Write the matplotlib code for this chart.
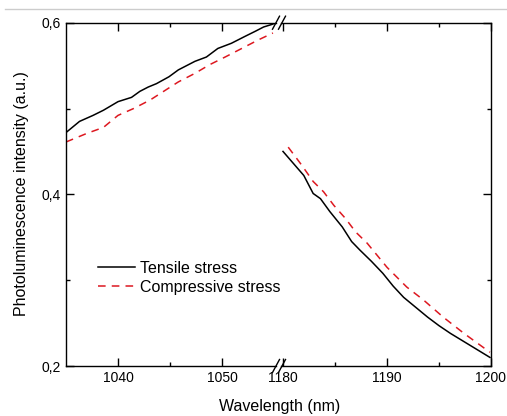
import numpy as np
import matplotlib.pyplot as plt
from matplotlib.lines import Line2D
from matplotlib.ticker import FixedLocator, FuncFormatter

plt.rcParams['font.family'] = ['Liberation Sans', 'DejaVu Sans']

# Dati: parte sinistra (1035-1055 nm)
wl_left_tens = [1035.0, 1036.3, 1037.6, 1038.6, 1040.0, 1041.3, 1042.1, 1042.9, 1043.7, 1044.9,
                1045.8, 1047.4, 1048.5, 1049.6, 1050.9, 1052.2, 1053.2, 1054.0, 1054.8, 1055.2]
int_left_tens = [0.472, 0.485, 0.492, 0.498, 0.508, 0.513, 0.520, 0.525, 0.529, 0.537,
                 0.545, 0.555, 0.560, 0.570, 0.576, 0.584, 0.590, 0.595, 0.598, 0.600]
wl_left_comp = [1035.0, 1037.0, 1038.6, 1040.0, 1041.5, 1043.1, 1044.9, 1045.8, 1047.4,
                1048.8, 1050.3, 1051.9, 1053.5, 1054.9]
int_left_comp = [0.461, 0.471, 0.478, 0.492, 0.500, 0.510, 0.524, 0.531, 0.541,
                 0.551, 0.560, 0.570, 0.580, 0.588]

# parte destra (1180-1200 nm)
wl_right_tens = [1180.0, 1181.0, 1182.0, 1182.9, 1183.6, 1184.5, 1185.7, 1186.6, 1187.4, 1188.5,
                 1189.6, 1190.6, 1191.6, 1192.8, 1193.9, 1195.0, 1196.1, 1198.0, 1199.9]
int_right_tens = [0.450, 0.436, 0.422, 0.401, 0.395, 0.380, 0.362, 0.345, 0.335, 0.322,
                  0.308, 0.293, 0.280, 0.268, 0.257, 0.247, 0.238, 0.224, 0.210]
wl_right_comp = [1180.5, 1181.8, 1182.9, 1183.9, 1184.9, 1186.0, 1187.0, 1188.1, 1190.0,
                 1191.9, 1193.5, 1195.4, 1197.4, 1199.9]
int_right_comp = [0.455, 0.434, 0.415, 0.403, 0.387, 0.372, 0.356, 0.343, 0.315,
                  0.292, 0.277, 0.257, 0.238, 0.216]

W, H = 507, 416
fig = plt.figure(figsize=(W / 100, H / 100), dpi=100)

ax_l = fig.add_axes([66 / W, 1 - 366 / H, 210 / W, 343.3 / H])
ax_r = fig.add_axes([281 / W, 1 - 366 / H, 210 / W, 343.3 / H], sharey=ax_l)

for ax, wt, it, wc, ic in [(ax_l, wl_left_tens, int_left_tens, wl_left_comp, int_left_comp),
                           (ax_r, wl_right_tens, int_right_tens, wl_right_comp, int_right_comp)]:
    ax.plot(wt, it, color='black', lw=1.1, label='Tensile stress')
    ax.plot(wc, ic, color='#dd1820', lw=1.1, ls=(0, (5, 4)), label='Compressive stress')
    for s in ax.spines.values():
        s.set_linewidth(1.0)
    ax.tick_params(which='both', direction='in', top=True, labelsize=10, width=1.0)
    ax.tick_params(which='major', length=6)
    ax.tick_params(which='minor', length=3)

ax_l.set_xlim(1035, 1035 + 210 / 10.4)
ax_r.set_xlim(1200 - 210 / 10.4, 1200)
ax_l.set_ylim(0.2, 0.6)

ax_l.xaxis.set_major_locator(FixedLocator([1040, 1050]))
ax_l.xaxis.set_minor_locator(FixedLocator([1045]))
ax_r.xaxis.set_major_locator(FixedLocator([1180, 1190, 1200]))
ax_r.xaxis.set_minor_locator(FixedLocator([1185, 1195]))
ax_l.yaxis.set_major_locator(FixedLocator([0.2, 0.4, 0.6]))
ax_l.yaxis.set_minor_locator(FixedLocator([0.3, 0.5]))
ax_l.yaxis.set_major_formatter(FuncFormatter(lambda v, p: ('%.1f' % v).replace('.', ',')))

ax_l.spines['right'].set_visible(False)
ax_r.spines['left'].set_visible(False)
ax_l.tick_params(which='both', right=False)
ax_r.tick_params(which='both', left=False, labelleft=False, right=True)

# segni di interruzione //
for yb in [22.7, 366]:
    for x0 in [272.5, 278.5]:
        fig.add_artist(Line2D([x0 / W, (x0 + 7) / W], [1 - (yb + 6.5) / H, 1 - (yb - 6.5) / H],
                              color='black', lw=1.0))

# linea grigia in alto
fig.add_artist(Line2D([5 / W, 1.0], [1 - 9 / H, 1 - 9 / H], color='#cccccc', lw=1.0))

fig.text(280 / W, 1 - 407 / H, 'Wavelength (nm)', ha='center', va='center', fontsize=11.5)
fig.text(22 / W, 1 - 194 / H, 'Photoluminescence intensity (a.u.)', ha='center', va='center',
         rotation=90, fontsize=11.5)

ax_l.legend(loc='center left', bbox_to_anchor=(84 / W, 1 - 278 / H), bbox_transform=fig.transFigure,
            frameon=False, fontsize=11.5, handlelength=2.3, handletextpad=0.3, labelspacing=0.25,
            borderpad=0.4)

fig.savefig('out.png', dpi=100)
